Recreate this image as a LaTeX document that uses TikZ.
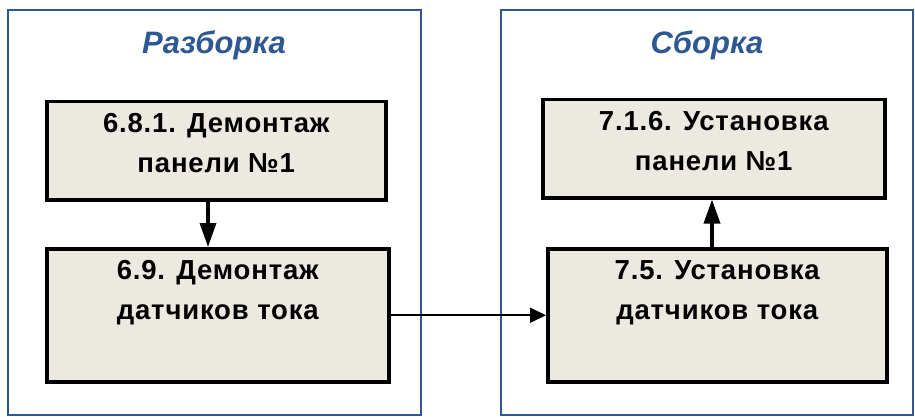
\documentclass[tikz,border=0pt]{standalone}
\usepackage{fontspec}
\setmainfont{Liberation Sans}
\usetikzlibrary{arrows.meta}
\definecolor{panelblue}{RGB}{46,88,146}
\definecolor{boxfill}{RGB}{236,234,224}
\tikzset{
  panel/.style={draw=panelblue, line width=2pt, fill=white},
  stepbox/.style={draw=black, line width=3.5pt, fill=boxfill},
  boxtext/.style={anchor=north, align=center, inner sep=0pt, yshift=-13pt,
    font=\fontsize{27.5}{40}\selectfont\bfseries\addfontfeature{LetterSpace=3}},
  title/.style={text=panelblue, font=\fontsize{31}{36}\selectfont\bfseries\itshape},
  thickarrow/.style={line width=3.5pt, -{Triangle[length=24pt,width=16pt]}},
  thinarrow/.style={line width=2pt, -{Triangle[length=16pt,width=15pt]}}
}
\begin{document}
\begin{tikzpicture}[x=1pt,y=-1pt]
\useasboundingbox[fill=white] (0,0) rectangle (915,417);
% panels
\draw[panel] (8,10) rectangle (421,415);
\draw[panel] (501,10) rectangle (913,415);
\node[title] (t1) at (214,45) {Разборка};
\node[title] (t2) at (707,45) {Сборка};
% boxes
\node[stepbox, draw, minimum width=339pt, minimum height=98pt, anchor=north west] (b1) at (45,100) {};
\node[boxtext] (b1t) at (b1.north) {6.8.1. Демонтаж\\панели №1};
\node[stepbox, draw, minimum width=342pt, minimum height=133pt, anchor=north west] (b2) at (45,247) {};
\node[boxtext] (b2t) at (b2.north) {6.9. Демонтаж\\датчиков тока};
\node[stepbox, draw, minimum width=342pt, minimum height=98pt, anchor=north west] (b3) at (541,98) {};
\node[boxtext] (b3t) at (b3.north) {7.1.6. Установка\\панели №1};
\node[stepbox, draw, minimum width=339pt, minimum height=133pt, anchor=north west] (b4) at (546,247) {};
\node[boxtext] (b4t) at (b4.north) {7.5. Установка\\датчиков тока};
% connectors
\draw[thickarrow] (b1.south -| 208,0) -- (b2.north -| 208,0);
\draw[thickarrow] (b4.north -| 712,0) -- (b3.south -| 712,0);
\draw[thinarrow] (b2.east) -- (b4.west);
\end{tikzpicture}
\end{document}
